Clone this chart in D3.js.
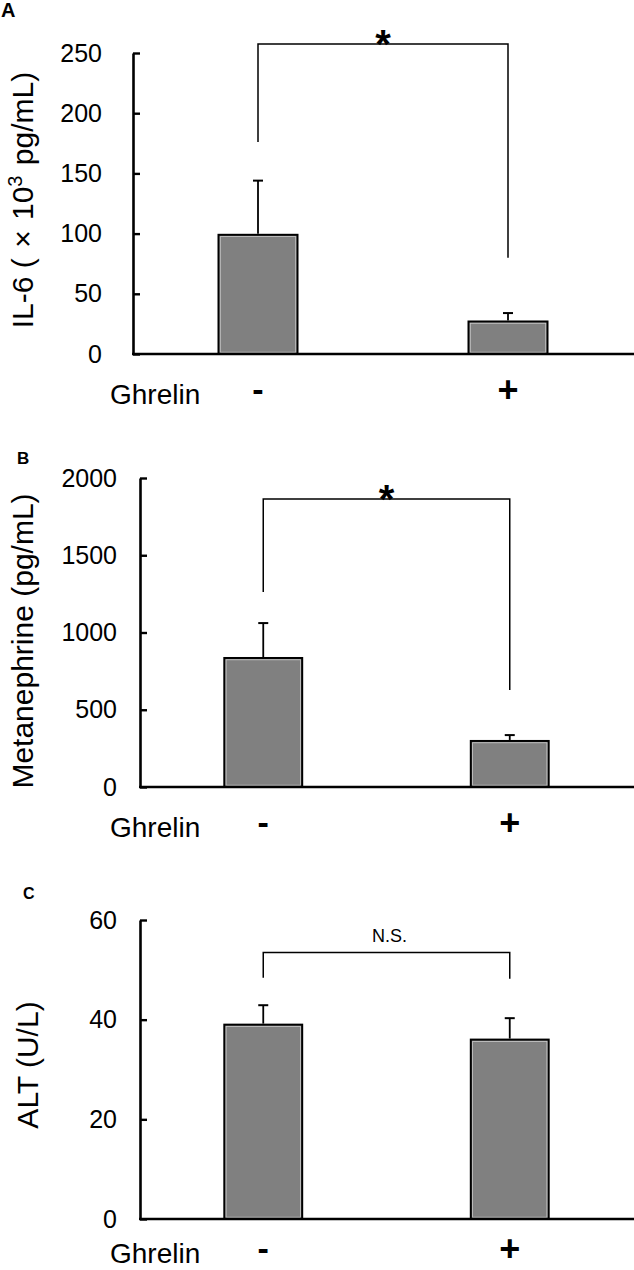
<!DOCTYPE html>
<html>
<head>
<meta charset="utf-8">
<script src="https://cdn.jsdelivr.net/npm/d3@7"></script>
<style>
  body { margin: 0; background: #fff; }
  text { font-family: "Liberation Sans", Arial, sans-serif; }
</style>
</head>
<body>
<script>
// values
var groups = ["-", "+"];

var il6Mean = [99, 27];
var il6Sem = [45, 7];
var il6Ticks = [0, 50, 100, 150, 200, 250];
var il6Bracket = [257.5, 176, 80];   // top, left foot, right foot

var metaMean = [835, 298];
var metaSem = [226, 38];
var metaTicks = [0, 500, 1000, 1500, 2000];
var metaBracket = [1864, 1262, 628];

var altMean = [39, 36];
var altSem = [3.9, 4.3];
var altTicks = [0, 20, 40, 60];
var altBracket = [53.5, 48.4, 48.2];

var W = 634, H = 1270;
var svg = d3.select("body").append("svg")
  .attr("width", W)
  .attr("height", H);

var panels = [
  { letter: "A", lx: 1, ly: 17, lsize: 20, axisX: 133, top: 53, bottom: 354, max: 250,
    ticks: il6Ticks, pad: 31, mean: il6Mean, sem: il6Sem, bracket: il6Bracket,
    sig: "*", label: "il6", labelX: 33, labelY: 200, labelSize: 30, xlab: 50 },
  { letter: "B", lx: 17, ly: 464, lsize: 17, axisX: 140, top: 478, bottom: 787, max: 2000,
    ticks: metaTicks, pad: 23, mean: metaMean, sem: metaSem, bracket: metaBracket,
    sig: "*", label: "Metanephrine (pg/mL)", labelX: 33, labelY: 641, labelSize: 30, xlab: 50 },
  { letter: "C", lx: 23, ly: 899, lsize: 16, axisX: 140, top: 920, bottom: 1219, max: 60,
    ticks: altTicks, pad: 23, mean: altMean, sem: altSem, bracket: altBracket,
    sig: "N.S.", label: "ALT (U/L)", labelX: 38, labelY: 1065, labelSize: 30, xlab: 44 }
];

panels.forEach(function(p){
  var g = svg.append("g");

  var x = d3.scaleBand()
    .domain(groups)
    .range([p.axisX, W - 1])
    .paddingInner(0.684)
    .paddingOuter(0.342);
  var y = d3.scaleLinear()
    .domain([0, p.max])
    .range([p.bottom, p.top]);

  // panel letter
  g.append("text")
    .attr("x", p.lx)
    .attr("y", p.ly)
    .attr("font-size", p.lsize)
    .attr("font-weight", "bold")
    .text(p.letter);

  // bars
  g.selectAll("rect.bar")
    .data(p.mean)
    .enter()
    .append("rect")
    .attr("class", "bar")
    .attr("x", function(d, i){ return x(groups[i]); })
    .attr("y", function(d){ return y(d); })
    .attr("width", x.bandwidth())
    .attr("height", function(d){ return y(0) - y(d); })
    .attr("fill", "#808080")
    .attr("stroke", "#000")
    .attr("stroke-width", 2);
  // light inner edge
  g.selectAll("rect.inner")
    .data(p.mean)
    .enter()
    .append("rect")
    .attr("class", "inner")
    .attr("x", function(d, i){ return x(groups[i]) + 1.8; })
    .attr("y", function(d){ return y(d) + 1.8; })
    .attr("width", x.bandwidth() - 3.6)
    .attr("height", function(d){ return y(0) - y(d) - 3.6; })
    .attr("fill", "none")
    .attr("stroke", "#c8c8c8")
    .attr("stroke-width", 0.8);

  // error bars (upper only)
  var cx = function(i){ return x(groups[i]) + x.bandwidth() / 2; };
  g.selectAll("line.err")
    .data(p.mean)
    .enter()
    .append("line")
    .attr("x1", function(d, i){ return cx(i); })
    .attr("x2", function(d, i){ return cx(i); })
    .attr("y1", function(d){ return y(d) - 1; })
    .attr("y2", function(d, i){ return y(d + p.sem[i]); })
    .attr("stroke", "#000")
    .attr("stroke-width", 1.8);
  g.selectAll("line.cap")
    .data(p.mean)
    .enter()
    .append("line")
    .attr("x1", function(d, i){ return cx(i) - 5; })
    .attr("x2", function(d, i){ return cx(i) + 5; })
    .attr("y1", function(d, i){ return y(d + p.sem[i]); })
    .attr("y2", function(d, i){ return y(d + p.sem[i]); })
    .attr("stroke", "#000")
    .attr("stroke-width", 2);

  // axes
  var yAxis = d3.axisLeft(y)
    .tickValues(p.ticks)
    .tickFormat(d3.format("d"))
    .tickSizeInner(-7)
    .tickSizeOuter(0)
    .tickPadding(p.pad);
  var ya = g.append("g")
    .attr("transform", "translate(" + p.axisX + ",0)")
    .call(yAxis);
  ya.select(".domain").attr("stroke-width", 2.6);
  ya.selectAll(".tick line").attr("stroke-width", 2.4);
  ya.selectAll(".tick text")
    .attr("font-size", 25)
    .attr("font-family", "Liberation Sans, Arial, sans-serif")
    .attr("fill", "#000");

  g.append("line")
    .attr("x1", p.axisX - 1)
    .attr("x2", W)
    .attr("y1", y(0))
    .attr("y2", y(0))
    .attr("stroke", "#000")
    .attr("stroke-width", 2.6);

  // x labels
  g.append("text")
    .attr("x", 110)
    .attr("y", y(0) + p.xlab)
    .attr("font-size", 28)
    .text("Ghrelin");
  g.selectAll("text.grp")
    .data(groups)
    .enter()
    .append("text")
    .attr("class", "grp")
    .attr("x", function(d){ return x(d) + x.bandwidth() / 2; })
    .attr("y", function(d){ return y(0) + p.xlab - (d == "+" ? 2 : 3); })
    .attr("text-anchor", "middle")
    .attr("font-weight", "bold")
    .attr("font-size", function(d){ return d == "+" ? 36 : 34; })
    .text(function(d){ return d; });

  // significance bracket
  var b = p.bracket;
  var bx0 = cx(0), bx1 = cx(1);
  g.append("path")
    .attr("d", d3.line()([[bx0, y(b[1])], [bx0, y(b[0])], [bx1, y(b[0])], [bx1, y(b[2])]]))
    .attr("fill", "none")
    .attr("stroke", "#000")
    .attr("stroke-width", 1.5);
  if (p.sig == "*") {
    g.append("text")
      .attr("x", (bx0 + bx1) / 2)
      .attr("y", y(b[0]) + 14)
      .attr("text-anchor", "middle")
      .attr("font-size", 40)
      .attr("font-weight", "bold")
      .text("*");
  } else {
    g.append("text")
      .attr("x", (bx0 + bx1) / 2 + 3)
      .attr("y", y(b[0]) - 10)
      .attr("text-anchor", "middle")
      .attr("font-size", 18)
      .text(p.sig);
  }

  // y label
  var t = g.append("text")
    .attr("transform", "translate(" + p.labelX + "," + p.labelY + ") rotate(-90)")
    .attr("text-anchor", "middle")
    .attr("font-size", p.labelSize)
    .attr("xml:space", "preserve");
  if (p.label == "il6") {
    t.append("tspan").text("IL-6 ( ");
    t.append("tspan").attr("dx", 2).text("\u00d7 ");
    t.append("tspan").attr("dx", 2).text("10");
    t.append("tspan").attr("dy", -11).attr("font-size", 20).text("3");
    t.append("tspan").attr("dy", 11).attr("dx", 2).text(" pg/mL)");
  } else {
    t.text(p.label);
  }
});
</script>
</body>
</html>
